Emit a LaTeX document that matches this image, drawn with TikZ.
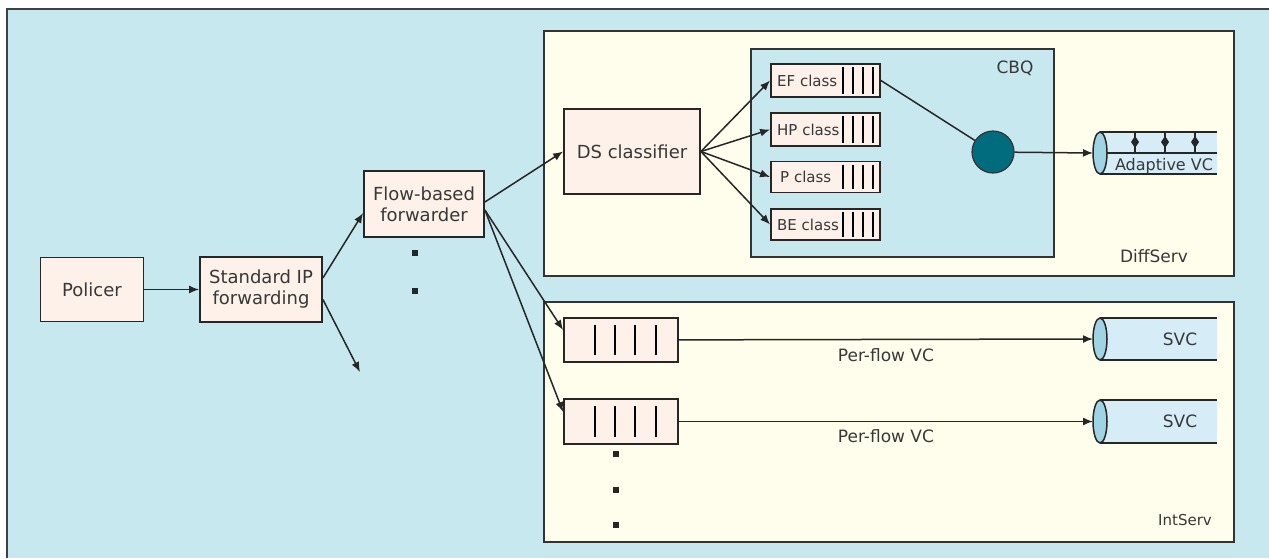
\documentclass[tikz,border=0pt]{standalone}
\usepackage{fontspec}
\setmainfont{DejaVu Sans}
\usetikzlibrary{arrows.meta,positioning}
\definecolor{skyblue}{RGB}{200,232,240}
\definecolor{paleyellow}{RGB}{255,253,236}
\definecolor{palepink}{RGB}{253,241,234}
\definecolor{pipeblue}{RGB}{214,236,246}
\definecolor{capblue}{RGB}{160,212,228}
\definecolor{tealdot}{RGB}{0,108,126}
\definecolor{inkgray}{RGB}{56,56,56}

\begin{document}
\begin{tikzpicture}[x=1pt,y=-1pt,
  every node/.style={text=inkgray},
  box/.style={draw=black!85,line width=1.8pt,fill=palepink,inner sep=0pt,align=center,font=\fontsize{18}{21}\selectfont},
  queue/.style={draw=black!85,line width=1.8pt,fill=palepink,inner sep=0pt},
  region/.style={draw=black!80,line width=2pt,inner sep=0pt,anchor=north west},
  link/.style={draw=black!85,line width=1.5pt},
  arr/.style={link,-{Latex[length=10pt,width=8pt]}},
  tag/.style={font=\fontsize{17}{20}\selectfont},
  clstag/.style={anchor=west,inner sep=0pt,font=\fontsize{15}{18}\selectfont},
  dot/.style={fill=black!85,minimum size=6pt,inner sep=0pt},
]
\useasboundingbox (0,0) rectangle (1269,558);
\fill[white] (0,0) rectangle (1269,558);
\fill[skyblue] (7,9) rectangle (1269,558);
\draw[black!75,line width=2pt] (7,558) -- (7,9) -- (1269,9);

\node[region,fill=paleyellow,minimum width=690pt,minimum height=245pt] (diffserv) at (543,30) {};
\node[region,fill=paleyellow,minimum width=690pt,minimum height=240pt] (intserv) at (543,301) {};
\node[region,fill=skyblue,minimum width=303pt,minimum height=208pt] (cbq) at (750,48) {};

\node[box,minimum width=103pt,minimum height=64pt] (policer) at (92,289.5) {Policer};
\node[box,minimum width=122pt,minimum height=65pt] (stdip) at (261,289.5) {Standard IP\\forwarding};
\node[box,minimum width=120pt,minimum height=66pt] (flow) at (424,204) {Flow-based\\forwarder};
\node[box,minimum width=136pt,minimum height=85pt] (dscls) at (632,151.5) {DS classifier};

\node[queue,minimum width=109pt,minimum height=33pt] (ef) at (825.5,80.5) {};
\node[queue,minimum width=109pt,minimum height=33pt] (hp) at (825.5,129.5) {};
\node[queue,minimum width=109pt,minimum height=31pt] (pc) at (825.5,177) {};
\node[queue,minimum width=109pt,minimum height=31pt] (be) at (825.5,224.5) {};
\node[clstag] (eftag) at (777,80.5) {EF class};
\node[clstag] (hptag) at (777,129.5) {HP class};
\node[clstag] (pctag) at (780,177) {P class};
\node[clstag] (betag) at (777,224.5) {BE class};
\foreach \q in {ef,hp,pc,be}
  \foreach \d in {8,18,28,38}
    \draw[line width=2pt] ([xshift=-\d pt,yshift=-4pt]\q.north east) -- ([xshift=-\d pt,yshift=4pt]\q.south east);

\node[circle,fill=tealdot,draw=black!80,line width=1.2pt,minimum size=42pt,inner sep=0pt] (sched) at (993,152) {};

\node[queue,minimum width=114pt,minimum height=44pt] (pf1) at (621,340) {};
\node[queue,minimum width=114pt,minimum height=45pt] (pf2) at (621,421.5) {};
\foreach \q in {pf1,pf2}
  \foreach \d in {32,52,72,93}
    \draw[line width=2pt] ([xshift=\d pt,yshift=-8pt]\q.north west) -- ([xshift=\d pt,yshift=8pt]\q.south west);

\foreach \n/\y/\h in {avc/153/21,svca/339/21,svcb/421.5/21.5}{
  \fill[pipeblue] (1100,\y-\h) rectangle (1217,\y+\h);
  \draw[link,line width=1.8pt] (1100,\y-\h) -- (1217,\y-\h) (1100,\y+\h) -- (1217,\y+\h);
  \draw[link,fill=capblue] (1100,\y) ellipse [x radius=7,y radius=\h];
  \coordinate (\n) at (1093,\y);
}
\draw[link] (1107,153) -- (1217,153);
\foreach \m in {1135,1165,1195}{
  \draw[link] (\m,132) -- (\m,153);
  \fill[black!85] (\m,136) -- (\m+4,142) -- (\m,148) -- (\m-4,142) -- cycle;
}
\node[font=\fontsize{16}{18}\selectfont,inner sep=0pt] (avctag) at (1164,166) {Adaptive VC};
\node[tag] (svcatag) at (1180,339) {SVC};
\node[tag] (svcbtag) at (1180,421.5) {SVC};

\node[tag] (cbqtag) at (1015,68) {CBQ};
\node[tag] (difftag) at (1154,256) {DiffServ};
\node[font=\fontsize{15}{18}\selectfont] (inttag) at (1185,520) {IntServ};

\node[dot] (fd1) at (415,253) {};
\node[dot] (fd2) at (415,291) {};
\node[dot] (pd1) at (616,454) {};
\node[dot] (pd2) at (616,490) {};
\node[dot] (pd3) at (616,525) {};

\coordinate (loose) at (360,372);
\draw[arr] (policer) -- (stdip);
\draw[arr] ([yshift=11.5pt]stdip.east) -- ([yshift=-9pt]flow.west);
\draw[arr] ([yshift=-10pt]stdip.east) -- (loose);
\draw[arr] ([yshift=2pt]flow.east) -- (dscls.west);
\draw[arr] ([yshift=-6pt]flow.east) -- ([yshift=10pt]pf1.west);
\draw[arr] ([yshift=-6pt]flow.east) -- ([yshift=9.5pt]pf2.west);
\foreach \q in {ef,hp,pc,be}
  \draw[arr] (dscls.east) -- (\q.west);
\draw[link] (ef.east) -- (sched);
\draw[arr] (sched) -- (avc);
\draw[arr] (pf1) -- node[tag,below=5pt] (pfatag) {Per-flow VC} (svca);
\draw[arr] (pf2) -- node[tag,below=4pt] (pfbtag) {Per-flow VC} (svcb);
\end{tikzpicture}
\end{document}
